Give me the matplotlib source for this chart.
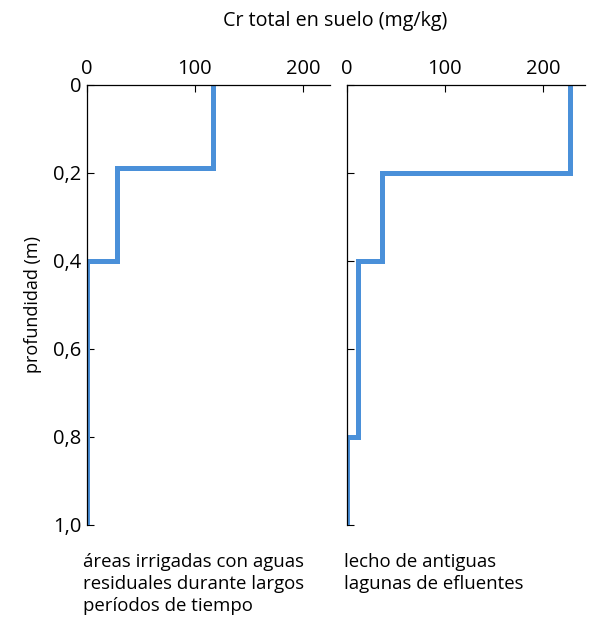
import matplotlib.pyplot as plt

plt.rcParams['font.family'] = ['Open Sans', 'DejaVu Sans']

# perfiles de Cr total (mg/kg) por profundidad (m)
prof_izq = [0, 0.19, 0.19, 0.40, 0.40, 1.0]
cr_izq = [117, 117, 28, 28, 0, 0]

prof_der = [0, 0.20, 0.20, 0.40, 0.40, 0.80, 0.80, 1.0]
cr_der = [228, 228, 36, 36, 11, 11, 0, 0]

yticks = [0, 0.2, 0.4, 0.6, 0.8, 1.0]
ylabels = ['0', '0,2', '0,4', '0,6', '0,8', '1,0']
xticks = [0, 100, 200]

azul = '#4a90d9'

fig = plt.figure(figsize=(5.92, 6.24), dpi=100)
ax1 = fig.add_axes([0.147, 0.159, 0.41, 0.705])
ax2 = fig.add_axes([0.586, 0.159, 0.402, 0.705])

for ax, x, y, xmax in [(ax1, cr_izq, prof_izq, 225), (ax2, cr_der, prof_der, 243)]:
    ax.plot(x, y, color=azul, lw=3.6, solid_joinstyle='miter')
    ax.set_xlim(0, xmax)
    ax.set_ylim(1.0, 0)
    ax.spines['right'].set_visible(False)
    ax.spines['bottom'].set_visible(False)
    ax.spines['left'].set_linewidth(0.9)
    ax.spines['top'].set_linewidth(0.9)
    ax.xaxis.tick_top()
    ax.set_xticks(xticks)
    ax.set_yticks(yticks)
    ax.tick_params(direction='in', length=5, width=0.8, labelsize=14.5, pad=4)

ax1.set_yticklabels(ylabels)
ax2.set_yticklabels([])
ax1.set_ylabel('profundidad (m)', fontsize=13, labelpad=8)

fig.text(0.567, 0.966, 'Cr total en suelo (mg/kg)', ha='center', va='center', fontsize=14.2)
fig.text(0.14, 0.113, 'áreas irrigadas con aguas\nresiduales durante largos\nperíodos de tiempo',
         ha='left', va='top', fontsize=13.4, linespacing=1.28)
fig.text(0.581, 0.113, 'lecho de antiguas\nlagunas de efluentes',
         ha='left', va='top', fontsize=13.4, linespacing=1.28)

fig.savefig('out.png', dpi=100)
